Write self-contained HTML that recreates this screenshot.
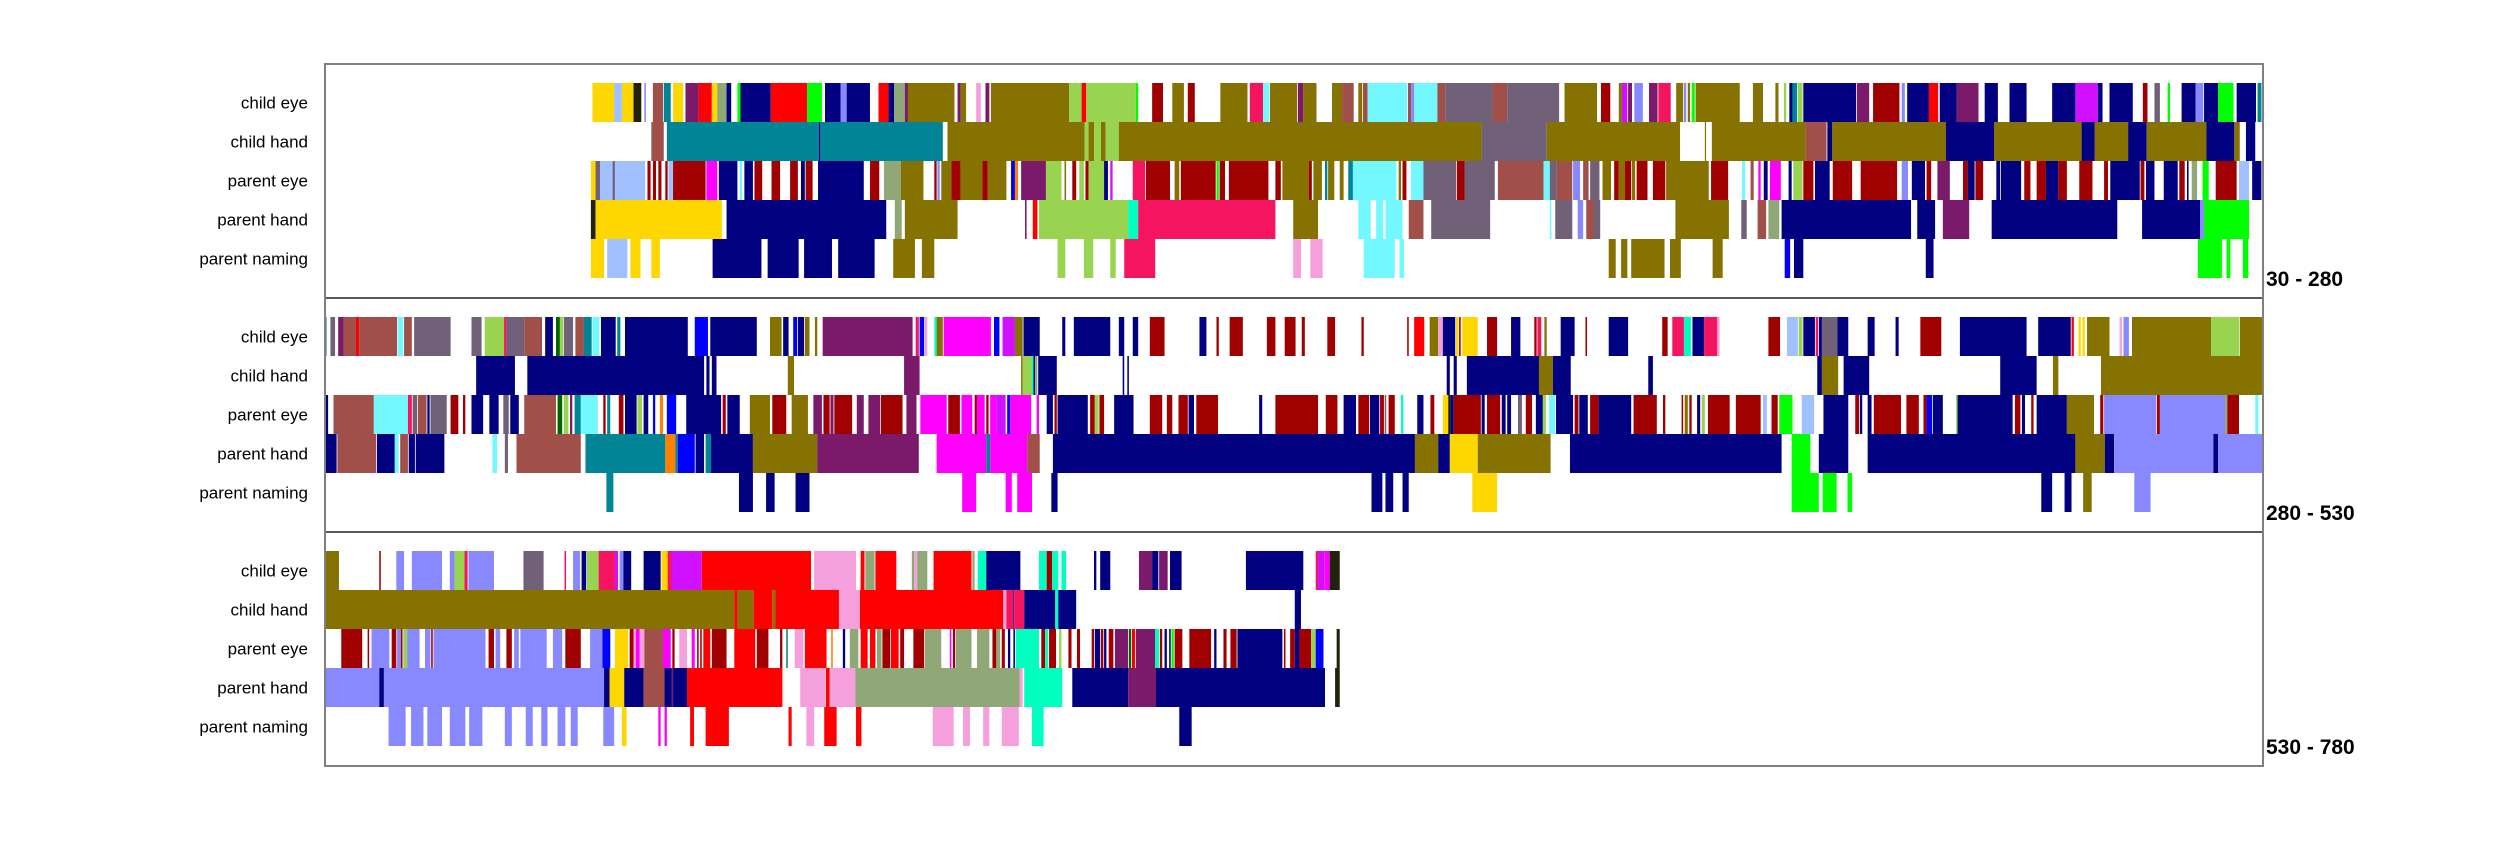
<!DOCTYPE html>
<html><head><meta charset="utf-8">
<style>
html,body{margin:0;padding:0;background:#fff;}
svg{display:block;}
text{font-family:"Liberation Sans",Arial,sans-serif;}
</style></head>
<body>
<svg id="chart" width="2500" height="859" viewBox="0 0 2500 859" xmlns="http://www.w3.org/2000/svg"></svg>
<script>
// ---- data ----
const rowNames = ['child eye','child hand','parent eye','parent hand','parent naming'];
const panelStarts = [30, 280, 530];
const panelLabels = ['30 - 280','280 - 530','530 - 780'];
const colorCodes = {Y:'#FFD700',LB:'#A0C0FF',BK:'#22220C',PW:'#8888FF',BR:'#A05048',TL:'#008496',PU:'#7B1A6A',R:'#FF0000',SG:'#90A878',N:'#000080',G:'#00FF00',OL:'#857200',PK:'#F5A0DC',LG:'#98D450',HP:'#F5145F',CY:'#73F8FF',DR:'#A00000',GR:'#706078',MG:'#FF00FF',VI:'#D010FF',SP:'#00FFC0',BL:'#0000FF',OR:'#FF8000',DG:'#006400'};

const p1ChildEye = [[64.5,67.3,'Y'],[67.3,68.3,'LB'],[68.3,69.8,'Y'],[69.8,70.8,'BK'],[71.2,71.4,'PW'],[72.3,73.6,'BR'],[73.7,74.6,'TL'],[74.9,76.2,'Y'],[76.5,78.2,'PU'],[78.2,79.9,'R'],[79.9,80.6,'Y'],[80.6,81.8,'SG'],[81.8,82.4,'N'],[83.2,83.6,'G'],[83.6,87.5,'N'],[87.5,92.2,'R'],[92.2,94.1,'G'],[94.5,96.5,'N'],[96.5,97.3,'PW'],[97.3,100.3,'N'],[101.4,102.7,'R'],[102.7,103.4,'N'],[103.4,104.8,'SG'],[104.8,105.2,'PU'],[105.2,111.2,'OL'],[111.6,112.0,'PU'],[112.0,112.7,'OL'],[114.0,114.6,'PK'],[115.2,115.7,'PU'],[115.9,126.0,'OL'],[126,127.6,'LG'],[127.6,128.2,'R'],[128.2,134.6,'LG'],[134.6,134.9,'G'],[136.7,138.1,'DR'],[139.3,140.8,'OL'],[141.3,142.2,'DR'],[145.5,149.0,'OL'],[149.3,151.0,'HP'],[151,151.8,'CY'],[151.9,155.4,'OL'],[155.5,156.2,'PU'],[156.2,157.9,'OL'],[159.9,161.2,'OL'],[161.2,162.7,'BR'],[163.3,163.8,'OL'],[163.9,164.5,'BR'],[164.5,169.6,'CY'],[169.7,170.1,'BR'],[170.1,170.5,'PW'],[170.5,173.5,'CY'],[173.5,174.5,'BR'],[174.5,180.6,'GR'],[180.6,182.5,'BR'],[182.5,189.2,'GR'],[189.9,194.1,'OL'],[194.6,195.8,'DR'],[196.9,197.3,'OL'],[197.3,198.0,'VI'],[198.1,198.6,'PU'],[198.9,200,'PW'],[200.8,201.9,'PU'],[202,203.6,'HP'],[204.3,205.2,'OL'],[205.3,205.6,'PW'],[205.8,206.1,'OL'],[206.3,206.7,'G'],[206.8,212.5,'OL'],[214.2,215.5,'OL'],[217.1,217.5,'OL'],[218.2,218.5,'LG'],[218.9,219.3,'N'],[219.3,219.9,'TL'],[220.0,220.6,'LG'],[220.7,227.5,'N'],[227.6,229.2,'PU'],[229.7,233.1,'DR'],[233.4,233.8,'PW'],[234.1,236.9,'N'],[236.9,238.1,'R'],[238.3,240.5,'N'],[240.5,243.3,'PU'],[244.1,245.8,'N'],[247.3,249.5,'N'],[252.8,255.8,'N'],[255.8,258.7,'VI'],[258.7,259.3,'N'],[260.2,263.2,'N'],[264.5,265.1,'DR'],[266.0,266.7,'GR'],[267.7,268.0,'G'],[269.5,271.3,'N'],[271.3,272.3,'PW'],[272.4,274.2,'N'],[274.2,276.2,'G'],[276.6,279.1,'N'],[279.3,279.8,'TL']];
const p1ChildHand = [[72.1,73.7,'BR'],[74.1,93.7,'TL'],[93.7,93.9,'N'],[93.9,109.7,'TL'],[110.3,128.0,'OL'],[128.0,128.5,'LG'],[128.5,129.2,'OL'],[129.2,130.1,'LG'],[130.1,130.7,'OL'],[130.7,132.4,'LG'],[132.4,179.2,'OL'],[179.2,187.6,'GR'],[187.6,204.8,'OL'],[208.0,208.1,'OL'],[208.9,221,'OL'],[221,223.7,'BR'],[223.8,224.4,'N'],[224.4,239.1,'OL'],[239.1,245.3,'N'],[245.3,256.6,'OL'],[256.6,258.3,'N'],[258.3,262.6,'OL'],[262.6,265,'N'],[265,272.7,'OL'],[272.7,276.3,'N'],[276.3,277,'OL'],[277.8,279,'N']];
const p1ParentEye = [[64.3,64.9,'Y'],[64.9,65.5,'GR'],[65.5,67.1,'LB'],[67.1,67.4,'GR'],[67.4,71.3,'LB'],[71.6,72.0,'DR'],[72.3,72.7,'DR'],[73.0,73.4,'DR'],[73.9,74.2,'DR'],[74.3,74.9,'LB'],[74.9,79.1,'DR'],[79.2,80.6,'MG'],[80.8,83.2,'N'],[83.5,83.8,'CY'],[84.1,85.2,'N'],[85.4,86.4,'DR'],[87.6,88.7,'DR'],[90,91,'DR'],[91.4,91.9,'N'],[92,92.9,'DR'],[93.6,99.5,'N'],[100.3,101.5,'DR'],[102.1,104.3,'SG'],[104.3,107.2,'OL'],[108.6,108.9,'DR'],[109.0,109.3,'PW'],[109.5,110.8,'OL'],[110.8,112.0,'DR'],[112,114.8,'OL'],[114.8,115.5,'DR'],[115.5,117.9,'OL'],[118.5,119.0,'BL'],[119.0,119.4,'OR'],[119.8,123,'PU'],[123,125,'LG'],[125.4,125.6,'OL'],[126.4,126.9,'DR'],[127.3,127.9,'LG'],[128.1,128.5,'DR'],[128.5,130.5,'LG'],[130.5,131,'N'],[131.3,131.6,'VI'],[134.2,135.8,'HP'],[135.9,139,'DR'],[139.6,140.2,'OL'],[140.4,144.9,'DR'],[145,145.3,'G'],[145.4,146.1,'DR'],[146.6,151.7,'DR'],[152.6,153.3,'DR'],[153.5,156.9,'OL'],[156.9,157.3,'DR'],[157.5,158.6,'OL'],[159,159.3,'TL'],[159.4,160.2,'OL'],[160.9,161.4,'OL'],[162,162.6,'TL'],[162.6,168.2,'CY'],[168.5,168.8,'OL'],[169.0,169.5,'DR'],[170.1,171.7,'CY'],[171.7,175.9,'GR'],[176,177,'DR'],[177,180.9,'GR'],[181.3,187.2,'BR'],[187.2,188.0,'CY'],[188.0,188.9,'GR'],[188.9,190.9,'BR'],[191,191.9,'PW'],[192.3,193,'BR'],[193.2,194.4,'GR'],[194.8,195.9,'OL'],[196.3,196.9,'DR'],[196.9,197.7,'OL'],[197.7,198.5,'DR'],[198.6,199.0,'OL'],[199.2,200.6,'DR'],[201.3,202.9,'DR'],[203,208.5,'OL'],[208.8,211,'DR'],[212.8,213.2,'CY'],[213.9,214.3,'BR'],[214.9,215.2,'MG'],[215.6,216.1,'N'],[216.4,217.8,'MG'],[218.8,219.2,'N'],[219.4,220.6,'LG'],[220.7,222,'DR'],[222.2,224.1,'N'],[224.5,227,'DR'],[228.1,232.8,'DR'],[233.4,234.2,'PW'],[234.7,236.4,'N'],[236.6,237.2,'DR'],[238,239.6,'PU'],[241.3,241.9,'DR'],[241.9,242.8,'N'],[242.9,243.9,'DR'],[245.6,246.1,'N'],[246.2,248.8,'N'],[249.2,250,'DR'],[250.8,252,'DR'],[252,253.6,'N'],[253.6,254.7,'DR'],[256.3,258,'DR'],[259.5,260,'DR'],[260.3,264.1,'N'],[264.2,264.7,'DR'],[264.9,266.0,'N'],[267.2,269,'N'],[269.2,269.9,'DR'],[270.2,270.4,'N'],[270.8,271.5,'SG'],[272.2,273,'G'],[273.9,276.6,'DR'],[276.9,278.2,'LB'],[278.6,279.8,'N']];
const p1ParentHand = [[64.3,64.9,'BK'],[64.9,81.2,'Y'],[81.8,102.4,'N'],[103.5,104.4,'SG'],[104.8,111.6,'OL'],[120.3,120.5,'PU'],[121.3,121.9,'R'],[122.1,133.6,'LG'],[133.6,134.9,'SP'],[134.9,152.6,'HP'],[154.9,158.1,'OL'],[163.3,164.9,'CY'],[165.6,166.5,'CY'],[166.8,169.0,'CY'],[169.8,171.7,'BR'],[172.7,180.3,'GR'],[188.0,188.2,'CY'],[188.7,190.9,'GR'],[191.6,192.3,'PW'],[192.7,193.7,'BR'],[193.7,194.5,'GR'],[204.2,211.1,'OL'],[212.7,213.4,'GR'],[214.8,215.9,'BR'],[216.2,217.6,'SG'],[217.9,234.6,'N'],[235.4,237.7,'N'],[238.7,242.1,'PU'],[245,261.2,'N'],[264.4,271.9,'N'],[271.9,272.4,'PW'],[272.4,278.2,'G']];
const p1ParentNaming = [[64.3,66,'Y'],[66.4,69,'LB'],[69.4,70.7,'Y'],[72.1,73.2,'Y'],[80,86.3,'N'],[87.1,91.1,'N'],[91.8,95.4,'N'],[96.2,100.9,'N'],[103.3,106.1,'OL'],[107,108.6,'OL'],[124.5,125.5,'LG'],[127.9,129.1,'LG'],[131.3,132,'LG'],[133.1,137.1,'HP'],[154.9,155.9,'PK'],[157.1,158.7,'PK'],[164,168,'CY'],[168.6,169.2,'CY'],[195.6,196.5,'OL'],[197.2,198.0,'OL'],[198.5,202.8,'OL'],[203.5,204.9,'OL'],[209,210.3,'OL'],[218.3,219.0,'BL'],[219.5,220.7,'N'],[236.5,237.5,'N'],[271.6,274.7,'G'],[275.3,275.8,'G'],[277.4,278.1,'G']];

const p2ChildEye = [[280.0,280.2,'TL'],[280.7,281.3,'GR'],[281.7,282.4,'PU'],[282.4,284,'BR'],[284,284.4,'R'],[284.4,289.3,'BR'],[289.4,290.1,'CY'],[290.2,291.2,'BR'],[291.5,296.2,'GR'],[298.9,300.2,'GR'],[300.6,303.1,'LG'],[303.1,303.4,'HP'],[303.4,305.7,'GR'],[305.7,308,'BR'],[308.4,309.4,'N'],[309.8,310.3,'DG'],[310.3,310.7,'LG'],[310.8,312,'GR'],[312.3,313.4,'BR'],[313.4,314.4,'TL'],[314.5,315.4,'CY'],[315.6,317.5,'N'],[317.7,318.1,'TL'],[318.7,326.8,'N'],[327.7,329.4,'BL'],[329.7,335.7,'N'],[337.4,338.9,'OL'],[339.1,339.8,'N'],[340.4,340.9,'BL'],[341,341.8,'N'],[341.9,342.5,'OL'],[343.2,343.5,'OL'],[344.2,355.8,'PU'],[356.2,356.6,'HP'],[356.7,357.3,'BL'],[357.4,357.7,'PK'],[358.6,358.9,'SP'],[358.9,359.7,'OL'],[359.8,365.9,'MG'],[366.3,367.0,'BL'],[367.4,369,'VI'],[369,370,'OL'],[370.1,372.2,'N'],[375.1,375.5,'N'],[376.6,381.3,'N'],[382.4,383.1,'N'],[384.2,384.9,'N'],[386.4,388.3,'DR'],[392.8,393.7,'N'],[395,395.3,'DR'],[396.7,398.4,'DR'],[401.5,402.6,'DR'],[403.8,405.2,'DR'],[406,406.4,'DR'],[409.3,410.3,'DR'],[413.7,414.0,'DR'],[419.6,419.8,'DR'],[420.5,421.8,'R'],[422.5,423.6,'OL'],[423.6,424.2,'PK'],[424.2,425.8,'N'],[425.9,426.2,'Y'],[426.3,426.5,'DR'],[426.7,428.7,'Y'],[429.9,431.2,'DR'],[433,434.2,'N'],[436,436.3,'DR'],[436.4,436.9,'HP'],[437.3,437.6,'OL'],[439.4,441.2,'N'],[442.6,442.8,'DR'],[445.6,448.1,'N'],[452.5,453.2,'DR'],[453.8,455.3,'HP'],[455.3,456.2,'SP'],[456.4,457.9,'N'],[457.9,459.6,'HP'],[459.6,459.9,'PK'],[466.2,467.7,'DR'],[468.6,470,'LB'],[470.1,470.6,'LG'],[470.7,472.2,'N'],[472.3,472.6,'HP'],[472.7,473.1,'N'],[473.1,475.1,'GR'],[475.1,476.5,'N'],[479,479.9,'N'],[482.6,483,'N'],[485.8,488.5,'DR'],[490.9,499.5,'N'],[501,505.2,'N'],[505.3,505.6,'R'],[506.2,506.5,'Y'],[506.7,507,'Y'],[507.3,510.2,'OL'],[511.5,511.8,'PK'],[512,512.7,'PW'],[513.1,523.3,'OL'],[523.3,526.9,'LG'],[527,530,'OL']];
const p2ChildHand = [[299.5,304.5,'N'],[306.1,328.9,'N'],[329.2,329.6,'N'],[329.9,330.5,'N'],[339.7,340.5,'OL'],[354.7,356.7,'PU'],[369.8,370,'OL'],[370,371.2,'LG'],[371.2,371.4,'SP'],[371.4,371.6,'N'],[371.6,371.9,'SG'],[372,374.4,'N'],[382.9,383.1,'N'],[383.5,383.7,'N'],[424.7,425.1,'N'],[425.6,426,'N'],[427.3,436.6,'N'],[436.6,438.4,'OL'],[438.4,440.7,'N'],[450.7,451.3,'N'],[472.5,473.1,'N'],[473.1,475.2,'OL'],[475.9,479.2,'N'],[496.1,500.8,'N'],[502.9,503.6,'OL'],[509.1,530,'OL']];
const p2ParentEye = [[280,280.4,'N'],[281.1,286.3,'BR'],[286.3,290.7,'CY'],[290.7,291.2,'HP'],[291.3,291.9,'GR'],[292,293.1,'BR'],[293.2,293.5,'N'],[293.6,295.7,'GR'],[296.2,297.2,'DR'],[297.8,298.1,'DR'],[298.9,300.4,'N'],[301.2,302.4,'N'],[303,303.7,'GR'],[303.9,305,'N'],[305.7,309.8,'BR'],[310,310.6,'DG'],[310.8,311.4,'LG'],[311.6,311.9,'PU'],[312.2,313,'TL'],[313,315.2,'CY'],[315.9,316.2,'DR'],[316.4,316.8,'TL'],[317.9,318.5,'DR'],[318.7,320.2,'N'],[320.3,320.9,'LG'],[321.1,321.7,'N'],[322.3,322.6,'BL'],[323.2,323.6,'OR'],[324.1,325.3,'BL'],[326.6,331.1,'N'],[331.3,331.7,'DR'],[331.9,333.5,'N'],[334.8,337.4,'OL'],[337.7,339.5,'DR'],[340.2,342.3,'OL'],[343,344.1,'PU'],[344.3,345.1,'DR'],[345.2,345.6,'PU'],[345.7,348,'DR'],[348.6,349.5,'PU'],[350.1,351.6,'PU'],[351.7,354.5,'DR'],[355,356.3,'PU'],[356.8,360.2,'MG'],[360.4,361.9,'DR'],[362.1,363.5,'MG'],[363.8,364.1,'DR'],[364.1,365.1,'MG'],[365.3,365.6,'DR'],[365.8,366.6,'MG'],[366.6,367.8,'VI'],[368,368.4,'BL'],[368.4,371.1,'MG'],[371.8,372.1,'MG'],[373.1,373.9,'N'],[374.1,374.4,'DR'],[374.5,378.4,'N'],[378.7,379.3,'DR'],[379.3,379.8,'LG'],[379.9,380.5,'DR'],[381.8,384.3,'N'],[386.4,388,'DR'],[388.6,389.3,'DR'],[390.1,391.3,'DR'],[391.4,392.1,'N'],[392.4,395.2,'DR'],[400.5,400.9,'N'],[402.6,408.1,'DR'],[409.1,410.6,'DR'],[411.4,413,'N'],[413.3,414.7,'DR'],[414.8,416,'N'],[416.1,416.6,'DR'],[416.7,416.9,'GR'],[417.2,418,'DR'],[418.8,419.1,'SP'],[420.9,421.7,'N'],[422.6,423.1,'DR'],[424.2,424.9,'Y'],[424.9,425.2,'BK'],[425.2,425.6,'N'],[425.6,429.1,'DR'],[429.2,429.6,'N'],[429.9,431.6,'DR'],[431.8,432.3,'N'],[432.5,433,'N'],[433.9,434.4,'GR'],[434.9,435.7,'DR'],[436.2,437.1,'N'],[437.1,437.5,'LG'],[437.9,438.7,'CY'],[438.8,441,'N'],[441.2,441.7,'DR'],[441.8,442.9,'N'],[443.2,444.3,'DR'],[444.3,448.5,'N'],[448.8,451.8,'DR'],[452.6,452.9,'DR'],[455,455.2,'DR'],[455.4,455.8,'OL'],[456,456.3,'DR'],[457,457.4,'N'],[457.6,458,'LG'],[458.4,461.2,'DR'],[462,465.2,'DR'],[465.5,466,'LB'],[466.6,467.4,'DR'],[467.6,469.3,'G'],[470.5,472.1,'LB'],[473.3,476.5,'N'],[477.4,477.9,'DR'],[478,478.3,'N'],[479,479.5,'N'],[479.8,483.3,'DR'],[484,485.6,'DR'],[486.2,486.6,'DR'],[486.6,487.3,'BL'],[487.4,488.7,'N'],[490.4,490.6,'LG'],[490.6,497.7,'N'],[498,498.7,'DR'],[498.9,499.3,'N'],[500.1,500.4,'DR'],[500.8,504.7,'N'],[504.7,508.2,'OL'],[509,509.4,'DR'],[509.5,516.2,'PW'],[516.3,516.7,'DR'],[516.7,525.1,'PW'],[525.1,525.4,'SG'],[525.4,526.9,'DR'],[529,529.4,'CY']];
const p2ParentHand = [[280,281.5,'N'],[281.6,286.6,'BR'],[286.7,289,'N'],[289,289.5,'CY'],[289.7,290.7,'BR'],[290.8,291.6,'N'],[291.7,295.4,'N'],[301.6,302.2,'CY'],[303.2,303.6,'GR'],[304.7,313,'BR'],[313.6,323.9,'TL'],[323.9,325.2,'OR'],[325.2,325.5,'TL'],[325.5,327.7,'BL'],[327.8,328.9,'N'],[329.1,329.8,'TL'],[329.8,335.2,'N'],[335.2,343.5,'OL'],[343.5,356.6,'PU'],[358.9,365.3,'MG'],[365.3,365.8,'TL'],[365.8,370.6,'MG'],[370.6,372.2,'BR'],[373.9,420.6,'N'],[420.6,423.6,'OL'],[423.6,425.1,'N'],[425.1,428.7,'Y'],[428.7,438.1,'OL'],[440.6,467.9,'N'],[469.2,471.6,'G'],[472.7,476.5,'N'],[479,505.8,'N'],[505.8,509.6,'OL'],[509.6,510.8,'N'],[510.8,523.6,'PW'],[523.6,524.2,'N'],[524.2,530,'PW']];
const p2ParentNaming = [[316.3,317.2,'TL'],[333.4,335.2,'N'],[336.9,338,'N'],[340.7,342.5,'N'],[362.2,364,'MG'],[367.8,368.6,'MG'],[369.3,371.2,'MG'],[373.7,374.5,'N'],[415,416.4,'N'],[416.8,417.8,'N'],[419,419.8,'N'],[428,431.2,'Y'],[469.2,472.7,'G'],[473.2,475,'G'],[476.4,477,'G'],[501.4,502.8,'N'],[504.4,505.3,'N'],[506.8,507.9,'OL'],[513.4,515.5,'PW']];

const p3ChildEye = [[530,531.8,'OL'],[537,537.2,'DR'],[539.2,540.2,'PW'],[541.2,545.1,'PW'],[546.1,546.7,'PW'],[546.7,548,'LG'],[548,548.4,'HP'],[548.5,551.8,'PW'],[555.6,558.2,'GR'],[560.9,561.1,'HP'],[562,562.9,'PW'],[563.1,563.7,'N'],[563.8,565.3,'LG'],[565.3,567.4,'HP'],[567.4,567.8,'VI'],[568,568.5,'PW'],[568.5,569.5,'N'],[571.1,573.3,'N'],[573.4,574.2,'Y'],[574.2,574.7,'HP'],[574.7,578.6,'VI'],[578.6,592.7,'R'],[593.1,598.5,'PK'],[599.1,599.6,'R'],[599.7,600.9,'SG'],[601,603.7,'R'],[605.7,606,'SG'],[606,606.4,'PK'],[606.4,607.7,'SG'],[608.5,613.4,'R'],[613.5,613.8,'SG'],[614.2,615.3,'SP'],[615.3,619.7,'N'],[622.1,623.1,'SP'],[623.1,623.8,'DR'],[623.8,624.6,'SP'],[625,625.6,'SP'],[629.2,629.5,'N'],[630,631.3,'N'],[635,636.7,'PU'],[636.7,637.5,'N'],[637.6,638.7,'PU'],[639,640.5,'N'],[648.8,656.2,'N'],[657.8,658.1,'HP'],[658.1,658.9,'VI'],[658.9,659.6,'MG'],[659.6,660.9,'BK']];
const p3ChildHand = [[530,582.8,'OL'],[582.8,583.2,'R'],[583.2,585.3,'OL'],[585.3,587.7,'R'],[587.7,588.1,'OL'],[588.1,596.3,'R'],[596.3,599,'PK'],[599,617.5,'R'],[617.5,617.9,'PK'],[617.9,618.7,'HP'],[618.7,618.9,'PU'],[618.9,620.2,'HP'],[620.2,624.2,'N'],[624.2,624.6,'SP'],[624.6,626.9,'N'],[655.1,655.9,'N']];
const p3ParentEye = [[532.1,534.8,'DR'],[535.5,535.7,'DR'],[536,538.3,'PW'],[538.6,539.2,'DR'],[539.3,539.8,'PW'],[539.8,540,'DR'],[540.1,540.6,'LG'],[540.6,542.2,'PW'],[542.9,543.6,'PW'],[543.7,543.9,'DR'],[544,550.7,'PW'],[551.1,551.8,'DR'],[552,552.6,'PW'],[553.4,554.1,'DR'],[554.4,555,'PW'],[555.2,558.6,'PW'],[559.4,560.6,'PW'],[561,563,'DR'],[564.2,565.8,'PW'],[565.8,566.8,'BL'],[567.4,569.1,'Y'],[569.3,569.8,'DR'],[569.8,570.1,'PK'],[570.1,570.6,'MG'],[570.6,571.2,'PK'],[571.2,573.6,'BR'],[573.6,574.6,'MG'],[574.8,575.1,'DR'],[575.7,576.7,'PK'],[577.3,577.7,'MG'],[578,578.2,'DR'],[578.4,578.6,'DR'],[578.8,579.7,'R'],[579.9,581.8,'DR'],[582.8,585.5,'R'],[585.7,587.2,'DR'],[588.7,589,'DR'],[589.5,589.7,'TL'],[590.6,591.7,'PK'],[591.9,594.7,'R'],[595.3,595.5,'OR'],[596.8,597.1,'N'],[597.7,598.8,'SG'],[599.1,600,'R'],[600.3,601,'R'],[601.2,601.8,'SG'],[601.9,602.9,'DR'],[603,604,'R'],[604.2,604.7,'DR'],[605.9,607.3,'DR'],[607.4,609.5,'SG'],[610.6,610.8,'MG'],[611,611.3,'DR'],[611.4,613.4,'SG'],[614.1,615.7,'SG'],[616.1,616.6,'DR'],[616.6,617.1,'SG'],[617.3,617.7,'DR'],[618.1,618.4,'N'],[618.8,619,'N'],[619.1,622.1,'SP'],[622.4,622.9,'DR'],[622.9,623.3,'SP'],[623.4,624.3,'DR'],[624.7,625,'LG'],[625.9,626.3,'DR'],[627,627.4,'DR'],[628.9,629.2,'DR'],[629.3,630,'N'],[630.1,630.4,'DR'],[630.5,630.8,'N'],[631.1,631.7,'DR'],[631.9,633.6,'PU'],[633.7,634,'DG'],[634.1,634.5,'R'],[634.6,637.1,'PU'],[637.1,637.6,'SP'],[637.7,638,'DR'],[638.3,638.6,'N'],[638.9,639.1,'N'],[639.2,639.5,'G'],[639.6,640.6,'DR'],[641.5,644.3,'DR'],[644.7,645,'N'],[645.9,646.3,'DR'],[646.8,647.6,'DR'],[647.7,653.5,'N'],[653.7,653.9,'DR'],[654.5,655.1,'DR'],[655.1,655.7,'N'],[655.7,657.2,'DR'],[657.2,657.8,'LG'],[657.8,658.8,'BL'],[660.5,660.9,'BK']];
const p3ParentHand = [[530,537,'PW'],[537,537.6,'N'],[537.6,566,'PW'],[566,566.7,'N'],[566.7,568.6,'Y'],[568.6,571.1,'N'],[571.1,573.8,'BR'],[573.8,574.7,'N'],[574.7,574.9,'PU'],[574.9,576.7,'N'],[576.7,589,'R'],[591.3,594.5,'PK'],[594.6,595.1,'R'],[595.1,598.4,'PK'],[598.4,619.6,'SG'],[619.6,620,'PK'],[620.2,625.1,'SP'],[626.4,633.6,'N'],[633.6,637.2,'PU'],[637.2,659,'N'],[660.3,660.9,'BK']];
const p3ParentNaming = [[538.2,540.4,'PW'],[541.1,542.7,'PW'],[543.2,545.1,'PW'],[546.1,548.1,'PW'],[548.6,550.3,'PW'],[553.2,554.1,'PW'],[555.9,556.8,'PW'],[557.9,558.7,'PW'],[560,561,'PW'],[561.7,562.6,'PW'],[565.9,567.3,'PW'],[568.3,568.9,'Y'],[573,573.3,'MG'],[573.8,574.1,'MG'],[577.1,577.6,'R'],[579.1,582.1,'R'],[589.8,590.2,'R'],[592.1,593.1,'PK'],[594.4,596,'R'],[598.5,599.2,'R'],[608.4,611.1,'PK'],[612.3,613.2,'PK'],[614.9,615.7,'PK'],[617.3,619.5,'PK'],[621.2,622.7,'SP'],[640.2,641.8,'N']];

const panelRows = [
  [p1ChildEye, p1ChildHand, p1ParentEye, p1ParentHand, p1ParentNaming],
  [p2ChildEye, p2ChildHand, p2ParentEye, p2ParentHand, p2ParentNaming],
  [p3ChildEye, p3ChildHand, p3ParentEye, p3ParentHand, p3ParentNaming]
];

// ---- layout ----
const NS = 'http://www.w3.org/2000/svg';
const svg = document.getElementById('chart');
const L = 325, R = 2263, TOP = 64, PH = 234, ROW_OFF = 19, ROW_H = 39, SPAN = 250;
function xScale(t, start){ return L + (t - start) * (R - L) / SPAN; }
function panelTop(p){ return TOP + p * PH; }
function rowY(p, r){ return panelTop(p) + ROW_OFF + r * ROW_H; }
function mk(tag, attrs){ const e = document.createElementNS(NS, tag); for (const k in attrs) e.setAttribute(k, attrs[k]); return e; }

for (let p = 0; p < 3; p++) {
  const g = mk('g', {});
  
  
  svg.appendChild(g);
  for (let r = 0; r < rowNames.length; r++) {
    const segs = panelRows[p][r];
    for (const s of segs) {
      const x0 = xScale(s[0], panelStarts[p]), x1 = xScale(s[1], panelStarts[p]);
      const rect = mk('rect', {x: x0.toFixed(2), y: rowY(p, r), width: Math.max(1.2, x1 - x0).toFixed(2), height: ROW_H, fill: colorCodes[s[2]]});
      
      
      g.appendChild(rect);
    }
    const lbl = mk('text', {x: 308, y: rowY(p, r) + ROW_H / 2 + 6, 'text-anchor': 'end', 'font-size': 17, fill: '#000'});
    lbl.textContent = rowNames[r];
    
    
    g.appendChild(lbl);
  }
  const pl = mk('text', {x: 2266, y: panelTop(p) + PH - 12, 'font-size': 21, 'font-weight': 'bold', fill: '#000'});
  pl.textContent = panelLabels[p];
  
  
  g.appendChild(pl);
  if (p > 0) {
    const ln = mk('line', {x1: L, x2: R, y1: panelTop(p), y2: panelTop(p), stroke: '#222', 'stroke-width': 1.5});
    
    
    svg.appendChild(ln);
  }
}
const frame = mk('rect', {x: L, y: TOP, width: R - L, height: PH * 3, fill: 'none', stroke: '#808080', 'stroke-width': 2});


svg.appendChild(frame);
</script>
</body></html>
